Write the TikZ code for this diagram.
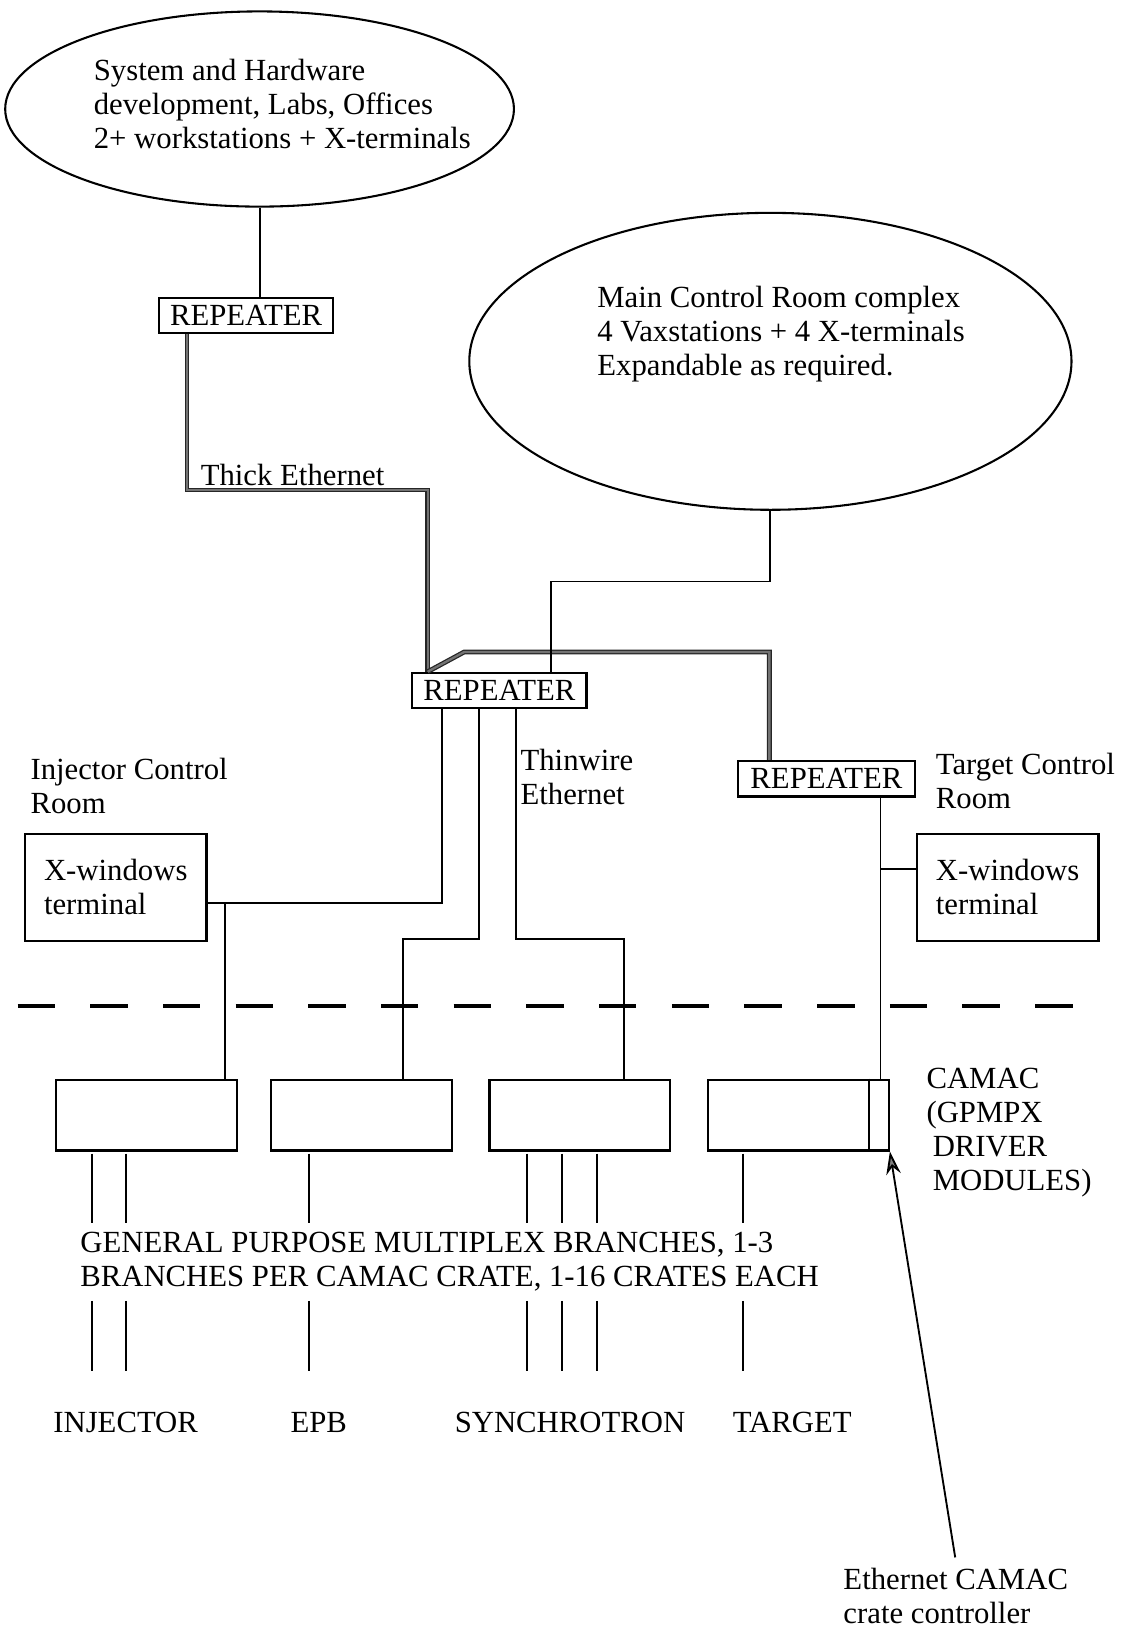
\documentclass[tikz,border=0pt]{standalone}
\usepackage{fontspec}
\setmainfont{Liberation Serif}
\usetikzlibrary{arrows.meta}
\usetikzlibrary{calc}
\usetikzlibrary{shapes.geometric}

\begin{document}
\begin{tikzpicture}[x=0.5pt, y=-0.5pt,
        font=\fontsize{14.8}{16.5}\selectfont,
        cloud_style/.style={ellipse, draw=black, line width=1pt},
        text_style/.style={inner sep=0pt, align=left},
        repeater_style/.style={draw=black, line width=1.1pt, inner xsep=4.5pt, inner ysep=0pt, minimum height=17pt, minimum width=84pt},
        terminal_style/.style={draw=black, line width=1.1pt, align=left, minimum width=87.5pt, minimum height=51.5pt},
        crate_style/.style={draw=black, line width=1.1pt, minimum width=87pt, minimum height=34pt},
        edge_style/.style={draw=black, line width=0.9pt},
        thick_edge_style/.style={draw=black!85, double=black!55, double distance=1.1pt, line width=0.6pt},
        branch_style/.style={draw=black, line width=1pt},
        border_style/.style={draw=black, line width=1.6pt, dash pattern=on 18pt off 17pt},
        arrow_style/.style={draw=black, line width=0.9pt, -{Stealth[length=11pt, width=7pt, fill=black!50]}}]

        \useasboundingbox (0,0) rectangle (1082,1568);

        \node [cloud_style, minimum width=245pt, minimum height=94pt](devcloud) at (250,105) {};
        \node [text_style, anchor=west](devtext) at (90,100) {System and Hardware\\development, Labs, Offices\\2+ workstations + X-terminals};

        \node [cloud_style, minimum width=290pt, minimum height=143pt](mcrcloud) at (742,348) {};
        \node [text_style, anchor=west](mcrtext) at (575,322) {Main Control Room complex\\4 Vaxstations + 4 X-terminals\\Expandable as required.};

        \node [repeater_style](rep1) at (237,304) {REPEATER};
        \node [repeater_style](rep2) at (481,665) {REPEATER};
        \node [repeater_style, minimum width=85.5pt](rep3) at (796,750) {REPEATER};

        \node [text_style, anchor=base west](thicklabel) at (193,468) {Thick Ethernet};
        \node [text_style, anchor=west](thinlabel) at (501,748) {Thinwire\\Ethernet};
        \node [text_style, anchor=west](injlabel) at (29,757) {Injector Control\\Room};
        \node [text_style, anchor=west](tgtlabel) at (901,752) {Target Control\\Room};

        \node [terminal_style](injterm) at (111.5,854.5) {X-windows\\terminal};
        \node [terminal_style](tgtterm) at (970.5,854.5) {X-windows\\terminal};

        \node [crate_style](crate1) at (141,1074) {};
        \node [crate_style](crate2) at (348,1074) {};
        \node [crate_style](crate3) at (558.5,1074) {};
        \node [crate_style](crate4) at (769,1074) {};

        \node [text_style, anchor=north west](camaclabel) at (892,1028) {CAMAC\\(GPMPX\\\hspace{3pt}DRIVER\\\hspace{3pt}MODULES)};
        \node [text_style, anchor=west](gpmxlabel) at (77,1215) {GENERAL PURPOSE MULTIPLEX BRANCHES, 1-3\\BRANCHES PER CAMAC CRATE, 1-16 CRATES EACH};

        \node [text_style](injname) at (121,1370) {INJECTOR};
        \node [text_style](epbname) at (307,1370) {EPB};
        \node [text_style](synname) at (549,1370) {SYNCHROTRON};
        \node [text_style](tgtname) at (763,1370) {TARGET};

        \node [text_style, anchor=west](ctrllabel) at (812,1537) {Ethernet CAMAC\\crate controller};

        % thick ethernet
        \coordinate (t1) at (180,472);
        \coordinate (t2) at (412,472);
        \coordinate (t3) at (447,628);
        \coordinate (t4) at (741,628);
        \draw [thick_edge_style] (rep1.south -| t1) -- (t1) -- (t2) -- (t2 |- rep2.north);
        \draw [thick_edge_style] (t2 |- rep2.north) -- (t3) -- (t4) -- (t4 |- rep3.north);

        \draw [edge_style] (devcloud.south) -- (devcloud.south |- rep1.north);

        \coordinate (m1) at (531,560);
        \draw [edge_style] (mcrcloud.south) |- (m1) -- (m1 |- rep2.north);

        % thinwire
        \coordinate (j1) at (426,870);
        \coordinate (j1d) at (217,870);
        \draw [edge_style] (rep2.south -| j1) -- (j1) -- (injterm.east |- j1);
        \draw [edge_style] (j1d) -- (j1d |- crate1.north);

        \coordinate (j2) at (461,904);
        \coordinate (j2d) at (388,904);
        \draw [edge_style] (rep2.south -| j2) -- (j2) -- (j2d) -- (j2d |- crate2.north);

        \coordinate (j3) at (497,904);
        \coordinate (j3d) at (601,904);
        \draw [edge_style] (rep2.south -| j3) -- (j3) -- (j3d) -- (j3d |- crate3.north);

        \coordinate (j4) at (848,837);
        \draw [edge_style] (rep3.south -| j4) -- (j4 |- crate4.north);
        \draw [edge_style] (j4) -- (tgtterm.west |- j4);

        \draw [edge_style] ($(crate4.north east)+(-10pt,0)$) -- ($(crate4.south east)+(-10pt,0)$);

        \coordinate (dashL) at (17,969);
        \coordinate (dashR) at (1037,969);
        \draw [border_style] (dashL) -- (dashR);

        % branches
        \foreach \bx/\bn in {89/a, 121/b, 298/c, 508/d, 541/e, 575/f, 716/g} {
            \coordinate (up\bn) at (\bx,1111);
            \coordinate (mid\bn) at (\bx,1178);
            \coordinate (low\bn) at (\bx,1253);
            \coordinate (end\bn) at (\bx,1320);
            \draw [branch_style] (up\bn) -- (mid\bn);
            \draw [branch_style] (low\bn) -- (end\bn);
        }

        \coordinate (ctrltail) at (920,1500);
        \draw [arrow_style] (ctrltail) -- (crate4.south east);

        \end{tikzpicture}
\end{document}
